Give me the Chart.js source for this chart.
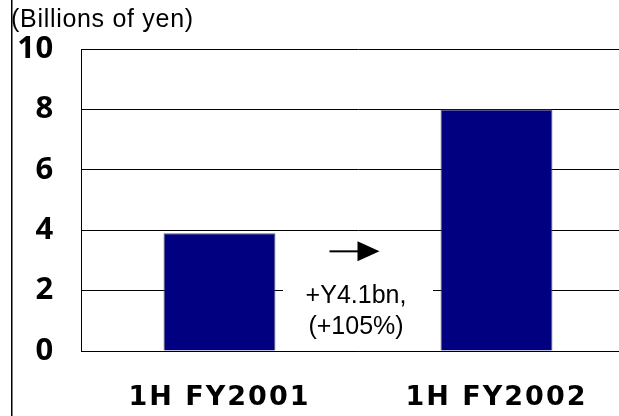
<!DOCTYPE html>
<html>
<head>
<meta charset="utf-8">
<script src="https://cdn.jsdelivr.net/npm/chart.js@4/dist/chart.umd.min.js"></script>
<style>
  html, body { margin: 0; padding: 0; background: #fff; }
  #clip { width: 619px; height: 416px; overflow: hidden; position: relative; }
  #wrap { width: 635px; height: 416px; position: relative; }
</style>
</head>
<body>
<div id="clip"><div id="wrap"><canvas id="c"></canvas></div></div>
<script>
// ---- data ----
const categories = ['1H FY2001', '1H FY2002'];
const profitValues = [3.9, 8.0];
const yTickValues = [0, 2, 4, 6, 8, 10];
const unitTitle = '(Billions of yen)';
const changeLines = ['+Y4.1bn,', '(+105%)'];
const changeArrowValue = 3.3;          // y value of the arrow
const changeLineValues = [1.82, 0.8];  // y values of the text lines

const tickFont = { family: 'Noto Sans', weight: 'bold', size: 31 };
const catFont = { family: 'DejaVu Sans', weight: 'bold', size: 27 };
const textFont = "25px 'Liberation Sans', Arial, sans-serif";

const decorPlugin = {
  id: 'decor',
  beforeDraw(chart) {
    chart.ctx.letterSpacing = '0.7px';   // title + y ticks
  },
  beforeDatasetsDraw(chart) {
    chart.ctx.letterSpacing = '0px';
  },
  afterDatasetsDraw(chart) {
    const { ctx } = chart;
    const x = chart.scales.x, y = chart.scales.y;
    const mid = (x.getPixelForValue(0) + x.getPixelForValue(1)) / 2;
    ctx.save();
    // white label box between the bars
    const top = y.getPixelForValue(yTickValues[2]) + 2;
    const bottom = y.getPixelForValue(yTickValues[0]) - 1;
    ctx.fillStyle = '#ffffff';
    ctx.fillRect(mid - 75, top, 150, bottom - top);
    // arrow
    const cx = mid - 3.5;
    const ay = y.getPixelForValue(changeArrowValue);
    ctx.strokeStyle = '#000'; ctx.lineWidth = 2;
    ctx.beginPath(); ctx.moveTo(cx - 25, ay); ctx.lineTo(cx + 4, ay); ctx.stroke();
    ctx.fillStyle = '#000';
    ctx.beginPath();
    ctx.moveTo(cx + 3, ay - 10); ctx.lineTo(cx + 25, ay); ctx.lineTo(cx + 3, ay + 10);
    ctx.closePath(); ctx.fill();
    // text
    ctx.font = textFont;
    ctx.textAlign = 'center';
    ctx.textBaseline = 'middle';
    changeLines.forEach((t, i) => {
      ctx.fillText(t, mid - 2, y.getPixelForValue(changeLineValues[i]));
    });
    ctx.restore();
    ctx.letterSpacing = '2px';   // x category labels (drawn after datasets)
  },
  afterDraw(chart) {
    const { ctx } = chart;
    ctx.letterSpacing = '0px';
    ctx.save();
    ctx.strokeStyle = '#000';
    ctx.lineWidth = 1.5;
    ctx.beginPath(); ctx.moveTo(11.75, 0); ctx.lineTo(11.75, chart.height); ctx.stroke();
    ctx.restore();
  }
};

new Chart(document.getElementById('c'), {
  type: 'bar',
  data: {
    labels: categories,
    datasets: [{
      data: profitValues,
      backgroundColor: '#000080',
      borderColor: '#5a5a5a',
      borderWidth: 1,
      categoryPercentage: 1,
      barPercentage: 0.404
    }]
  },
  options: {
    responsive: true,
    maintainAspectRatio: false,
    animation: false,
    devicePixelRatio: 1,
    layout: { padding: { left: 11, top: 5, right: 0, bottom: 0 } },
    plugins: {
      legend: { display: false },
      tooltip: { enabled: false },
      title: {
        display: true,
        text: unitTitle,
        align: 'start',
        color: '#000',
        font: { family: 'Liberation Sans', size: 25, weight: 'normal', lineHeight: 1.2 },
        padding: { top: 0, bottom: 14 }
      }
    },
    scales: {
      x: {
        offset: true,
        grid: { display: false, drawTicks: false },
        border: { display: true, color: '#000', width: 1 },
        ticks: { color: '#000', font: catFont, padding: 31, maxRotation: 0, z: 1 },
        afterFit(s) { s.height = 65; }
      },
      y: {
        min: yTickValues[0],
        max: yTickValues[yTickValues.length - 1],
        ticks: { stepSize: 2, color: '#000', font: tickFont, padding: 27 },
        grid: { color: '#000', lineWidth: 1, drawTicks: false },
        border: { display: true, color: '#000', width: 1 },
        afterFit(s) { s.width = 70; }
      }
    }
  },
  plugins: [decorPlugin]
});
</script>
</body>
</html>
